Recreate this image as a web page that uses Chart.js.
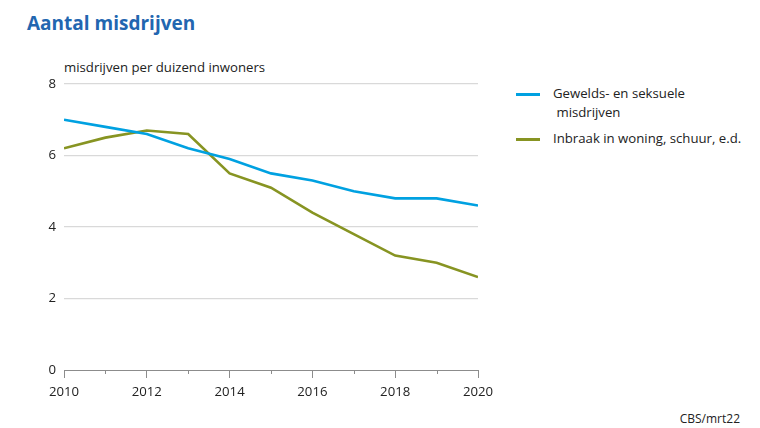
<!DOCTYPE html>
<html>
<head>
<meta charset="utf-8">
<script src="https://cdn.jsdelivr.net/npm/chart.js@4"></script>
<style>
  body { margin: 0; width: 760px; height: 428px; background: #fff; position: relative; overflow: hidden;
         font-family: "Open Sans", "Noto Sans", sans-serif; color: #222; }
  #title { position: absolute; left: 27px; top: 10px; font-size: 19px; font-weight: bold; color: #2266b0; }
  #ytitle { position: absolute; left: 64px; top: 58px; font-size: 13.2px; }
  #chart-wrap { position: absolute; left: 0; top: 60px; width: 500px; height: 350px; }
  .leg { position: absolute; left: 516px; font-size: 13.2px; line-height: 19px; }
  .leg .sw { position: absolute; left: 0; top: 9px; width: 24px; height: 3px; }
  .leg .tx { margin-left: 37px; }
  #source { position: absolute; right: 20px; top: 410px; font-size: 12px; }
</style>
</head>
<body>
<div id="title">Aantal misdrijven</div>
<div id="ytitle">misdrijven per duizend inwoners</div>
<div id="chart-wrap"><canvas id="chart"></canvas></div>
<div class="leg" style="top:84px"><span class="sw" style="background:#00a1e1"></span><div class="tx">Gewelds- en seksuele<br>&nbsp;misdrijven</div></div>
<div class="leg" style="top:129px"><span class="sw" style="background:#879422"></span><div class="tx">Inbraak in woning, schuur, e.d.</div></div>
<div id="source">CBS/mrt22</div>
<script>
const years = [2010, 2011, 2012, 2013, 2014, 2015, 2016, 2017, 2018, 2019, 2020];
const geweld = [7.0, 6.8, 6.6, 6.2, 5.9, 5.5, 5.3, 5.0, 4.8, 4.8, 4.6];
const inbraak = [6.2, 6.5, 6.7, 6.6, 5.5, 5.1, 4.4, 3.8, 3.2, 3.0, 2.6];
const yTicks = [0, 2, 4, 6, 8];

const font = { family: "'Open Sans', 'Noto Sans', sans-serif", size: 13.2 };

// short tick marks for the odd years
const minorTicks = {
  id: "minorTicks",
  afterDraw(chart) {
    const x = chart.scales.x;
    const ctx = chart.ctx;
    const y0 = chart.chartArea.bottom;
    ctx.save();
    ctx.strokeStyle = "#8c8c8c";
    ctx.lineWidth = 1;
    years.filter(v => v % 2 === 1).forEach(v => {
      const px = Math.round(x.getPixelForValue(v)) + 0.5;
      ctx.beginPath();
      ctx.moveTo(px, y0);
      ctx.lineTo(px, y0 + 4);
      ctx.stroke();
    });
    ctx.restore();
  }
};

new Chart(document.getElementById("chart"), {
  type: "line",
  data: {
    datasets: [
      { label: "Gewelds- en seksuele misdrijven", data: years.map((y, i) => ({ x: y, y: geweld[i] })),
        borderColor: "#00a1e1", borderWidth: 2.6, pointRadius: 0, tension: 0 },
      { label: "Inbraak in woning, schuur, e.d.", data: years.map((y, i) => ({ x: y, y: inbraak[i] })),
        borderColor: "#879422", borderWidth: 2.6, pointRadius: 0, tension: 0 }
    ]
  },
  options: {
    responsive: true,
    maintainAspectRatio: false,
    animation: false,
    layout: { padding: { top: 24, right: 22, left: 0, bottom: 0 } },
    plugins: { legend: { display: false }, tooltip: { enabled: false } },
    scales: {
      x: {
        type: "linear", min: 2010, max: 2020,
        afterFit: s => { s.height = 40; },
        afterBuildTicks: s => { s.ticks = years.map(v => ({ value: v })); },
        border: { color: "#8c8c8c", width: 1 },
        grid: { drawOnChartArea: false, tickLength: 8,
                tickColor: c => (c.tick && c.tick.value % 2 === 0) ? "#8c8c8c" : "transparent" },
        ticks: { font, color: "#222", padding: 6, maxRotation: 0, autoSkip: false,
                 callback: v => v % 2 === 0 ? String(v) : "" }
      },
      y: {
        min: 0, max: 8,
        afterFit: s => { s.width = 64; },
        afterBuildTicks: s => { s.ticks = yTicks.map(v => ({ value: v })); },
        border: { display: false },
        grid: { drawTicks: false, color: c => c.tick.value === 0 ? "transparent" : "#d9d9d9", lineWidth: 1.2 },
        ticks: { font, color: "#222", padding: 8 }
      }
    }
  },
  plugins: [minorTicks]
});
</script>
</body>
</html>
